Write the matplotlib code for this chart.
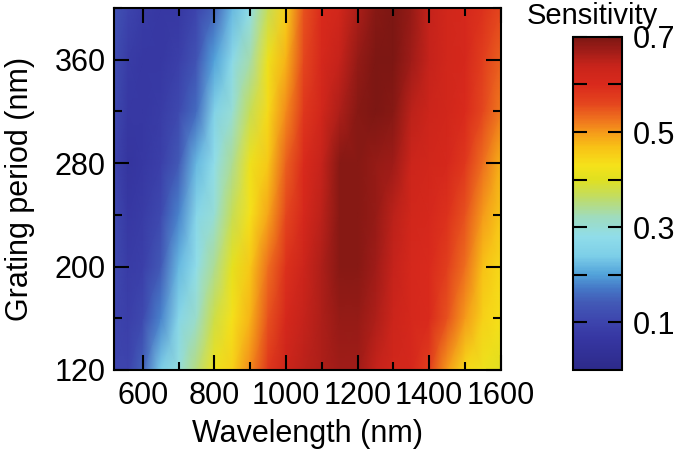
import numpy as np
import matplotlib.pyplot as plt
from matplotlib.colors import LinearSegmentedColormap

plt.rcParams['font.family'] = ['Liberation Sans', 'DejaVu Sans']

# Wavelength (nm) and grating period (nm) grid
wavelength = [520, 560, 600, 650, 700, 750, 800, 850, 900, 950, 1000, 1050,
              1100, 1150, 1200, 1250, 1300, 1350, 1400, 1450, 1500, 1550, 1600]
period = [120, 160, 200, 240, 280, 320, 360, 400]

# Sensitivity, one row per grating period (bottom to top)
sens_120 = [0.10, 0.10, 0.15, 0.24, 0.29, 0.35, 0.42, 0.45, 0.51, 0.58, 0.63, 0.65,
            0.66, 0.67, 0.67, 0.64, 0.62, 0.61, 0.57, 0.50, 0.44, 0.42, 0.40]
sens_160 = [0.10, 0.09, 0.11, 0.18, 0.26, 0.31, 0.38, 0.43, 0.48, 0.55, 0.61, 0.64,
            0.66, 0.68, 0.68, 0.66, 0.63, 0.61, 0.60, 0.55, 0.50, 0.45, 0.43]
sens_200 = [0.11, 0.08, 0.09, 0.14, 0.22, 0.28, 0.34, 0.41, 0.46, 0.53, 0.59, 0.63,
            0.66, 0.69, 0.69, 0.67, 0.64, 0.61, 0.60, 0.57, 0.53, 0.47, 0.44]
sens_240 = [0.11, 0.07, 0.08, 0.11, 0.18, 0.26, 0.30, 0.37, 0.43, 0.49, 0.56, 0.61,
            0.65, 0.69, 0.69, 0.68, 0.65, 0.62, 0.61, 0.59, 0.55, 0.50, 0.46]
sens_280 = [0.10, 0.06, 0.07, 0.09, 0.14, 0.22, 0.28, 0.34, 0.42, 0.46, 0.54, 0.60,
            0.64, 0.69, 0.69, 0.68, 0.67, 0.63, 0.62, 0.61, 0.58, 0.53, 0.48]
sens_320 = [0.11, 0.07, 0.07, 0.08, 0.11, 0.16, 0.25, 0.30, 0.37, 0.44, 0.51, 0.58,
            0.62, 0.66, 0.69, 0.70, 0.69, 0.65, 0.63, 0.62, 0.60, 0.56, 0.52]
sens_360 = [0.12, 0.08, 0.07, 0.07, 0.09, 0.13, 0.20, 0.27, 0.33, 0.42, 0.48, 0.56,
            0.61, 0.64, 0.68, 0.70, 0.70, 0.67, 0.64, 0.62, 0.61, 0.57, 0.54]
sens_400 = [0.13, 0.10, 0.08, 0.07, 0.07, 0.10, 0.15, 0.22, 0.28, 0.37, 0.45, 0.55,
            0.60, 0.62, 0.66, 0.69, 0.70, 0.68, 0.64, 0.62, 0.61, 0.59, 0.56]

Z = np.array([sens_120, sens_160, sens_200, sens_240,
              sens_280, sens_320, sens_360, sens_400])

# colour scale sampled from the colour bar
cmap = LinearSegmentedColormap.from_list('sens', [
    (0.00 / 0.7, '#2d2a8a'), (0.06 / 0.7, '#3535a0'), (0.10 / 0.7, '#3d44ad'),
    (0.14 / 0.7, '#4259b6'), (0.17 / 0.7, '#4577c6'), (0.20 / 0.7, '#52a2da'),
    (0.24 / 0.7, '#7dcfe8'), (0.28 / 0.7, '#90dde9'), (0.32 / 0.7, '#9edcc0'),
    (0.36 / 0.7, '#bedc6a'), (0.40 / 0.7, '#e0e020'), (0.43 / 0.7, '#f5e21a'),
    (0.47 / 0.7, '#f8c016'), (0.50 / 0.7, '#f59a1a'), (0.53 / 0.7, '#ee6e1e'),
    (0.56 / 0.7, '#e4461e'), (0.60 / 0.7, '#da2a1c'), (0.64 / 0.7, '#c8241b'),
    (0.67 / 0.7, '#a21d18'), (1.00, '#7d1713')])

fig = plt.figure(figsize=(6.75, 4.5), dpi=100)
ax = fig.add_axes([0.169, 0.178, 0.573, 0.804])

mesh = ax.pcolormesh(wavelength, period, Z, shading='gouraud',
                     cmap=cmap, vmin=0, vmax=0.7)
ax.set_xlim(520, 1600)
ax.set_ylim(120, 400)

ax.set_xticks([600, 800, 1000, 1200, 1400, 1600])
ax.set_xticks([700, 900, 1100, 1300, 1500], minor=True)
ax.set_yticks([120, 200, 280, 360])
ax.set_yticks([160, 240, 320, 400], minor=True)
ax.tick_params(which='both', direction='in', top=True, right=True,
               width=1.5, labelsize=22)
ax.tick_params(axis='x', which='both', pad=8)
ax.tick_params(axis='y', which='both', pad=6)
ax.tick_params(which='major', length=11)
ax.tick_params(which='minor', length=6)
for s in ax.spines.values():
    s.set_linewidth(1.5)

ax.set_xlabel('Wavelength (nm)', fontsize=22, labelpad=6)
ax.set_ylabel('Grating period (nm)', fontsize=22, labelpad=14)

# colour bar
cax = fig.add_axes([0.849, 0.178, 0.072, 0.740])
cb = fig.colorbar(mesh, cax=cax)
cb.set_ticks([0.1, 0.2, 0.3, 0.4, 0.5, 0.6, 0.7])
cb.set_ticklabels(['0.1', '', '0.3', '', '0.5', '', '0.7'])
cax.tick_params(direction='in', left=True, right=True, length=10, width=1.5,
                labelsize=22, pad=8)
cb.outline.set_linewidth(1.5)
fig.text(0.877, 0.965, 'Sensitivity', fontsize=21, ha='center', va='center')

fig.savefig('out.png', dpi=100)
